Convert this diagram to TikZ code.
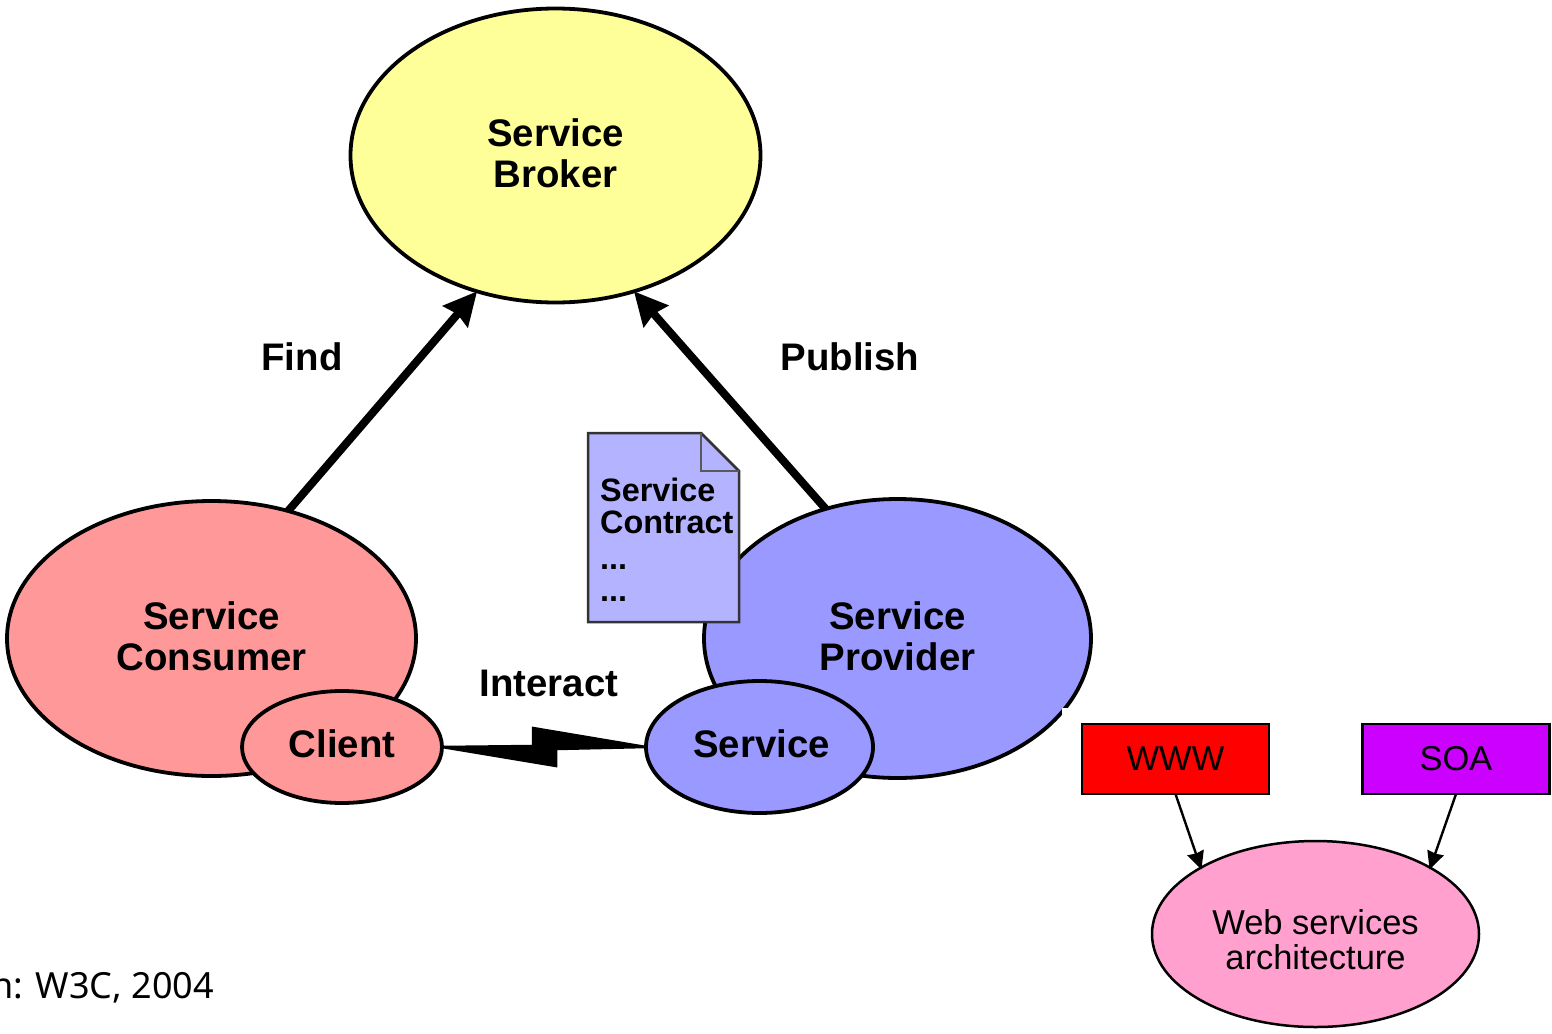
\documentclass[tikz,border=0pt]{standalone}
\usepackage{fontspec}
\setmainfont{Liberation Sans}
\newfontfamily\capfont{Noto Sans}
\usetikzlibrary{shapes.geometric,arrows.meta,calc}
\definecolor{brokerfill}{HTML}{FFFF99}
\definecolor{consumerfill}{HTML}{FF9999}
\definecolor{providerfill}{HTML}{9999FF}
\definecolor{docfill}{HTML}{B3B3FF}
\definecolor{webfill}{HTML}{FFA0CF}
\definecolor{soafill}{HTML}{CC00FF}
\newcommand{\bigbold}{\fontsize{38.4}{41}\selectfont\bfseries}
\newcommand{\plainsm}{\fontsize{34.5}{35}\selectfont}
\tikzset{
  role/.style={draw=black,line width=3.8pt,ellipse,inner sep=0pt,outer sep=0pt},
  lbl/.style={inner sep=0pt,outer sep=0pt,align=center,font=\bigbold},
  bigarrow/.style={line width=8pt,-{Stealth[length=33pt,width=32pt,inset=3pt]}},
  smallarrow/.style={line width=2.4pt,shorten >=-2pt,-{Stealth[length=18pt,width=17pt,inset=1pt]}},
  tagbox/.style={draw=black,line width=2.5pt,inner sep=0pt,outer sep=0pt,minimum width=187pt,minimum height=70pt,font=\plainsm},
}
\begin{document}
\begin{tikzpicture}[x=1pt,y=-1pt]
\useasboundingbox (0,0) rectangle (1552,1033);
\node[role,fill=brokerfill,minimum width=410pt,minimum height=294pt] (broker) at (555.5,155.5) {};
\node[role,fill=consumerfill,minimum width=409pt,minimum height=275pt] (consumer) at (211.5,638.5) {};
\node[role,fill=providerfill,minimum width=387pt,minimum height=279pt] (provider) at (897.5,638.5) {};
\fill[white] (1062,708) rectangle (1552,1033);
\node[role,fill=consumerfill,minimum width=200pt,minimum height=112pt] (client) at (342,747) {};
\node[role,fill=providerfill,minimum width=227pt,minimum height=132pt] (service) at (759.5,747) {};
\node[lbl] (brokertext) at (555.5,153) {Service\\Broker};
\node[lbl] (consumertext) at (211.5,636) {Service\\Consumer};
\node[lbl] (providertext) at (897.5,636) {Service\\Provider};
\node[lbl] (clienttext) at (342,744) {Client};
\node[lbl] (servicetext) at (761.5,744) {Service};
\draw[bigarrow] (consumer.59) -- (broker.240.4);
\draw[bigarrow] (provider.119.7) -- (broker.-60.1);
\node[lbl] (find) at (302,357) {Find};
\node[lbl] (publish) at (850,357) {Publish};
\node[lbl] (interact) at (549,683) {Interact};
\draw[line width=2.5pt,fill=black,line join=miter] (client.east) -- ++(91,-1) -- ++(0,-18) -- (service.west) -- ++(-90,2) -- ++(0,17) -- cycle;
% service contract document
\coordinate (docA) at (588,433);
\coordinate (docB) at (701,433);
\coordinate (docC) at (739,471);
\coordinate (docD) at (739,622);
\coordinate (docE) at (588,622);
\draw[fill=docfill,draw=black!80,line width=2.5pt] (docA) -- (docB) -- (docC) -- (docD) -- (docE) -- cycle;
\draw[draw=black!65,line width=2.5pt,line join=miter] (docB) -- (docB |- docC) -- (docC);
\node[inner sep=0pt,anchor=north west,align=left,font=\fontsize{32.4}{32}\selectfont\bfseries] (doctext) at (600,478) {Service\\Contract\\[4pt]...\\...};
% right-hand part
\node[tagbox,fill=red] (www) at (1175.5,759) {WWW};
\node[tagbox,fill=soafill] (soa) at (1456,759) {SOA};
\node[draw=black,line width=2.5pt,ellipse,inner sep=0pt,outer sep=0pt,fill=webfill,minimum width=327pt,minimum height=186pt] (web) at (1315.5,934) {};
\node[inner sep=0pt,align=center,font=\plainsm] (webtext) at (1315.5,940) {Web services\\architecture};
\draw[smallarrow] (www.south) -- (web.150.5);
\draw[smallarrow] (soa.south) -- (web.30.3);
\node[anchor=base east,inner sep=0pt,font=\capfont\fontsize{36}{40}\selectfont] (source) at (214,998) {n: W3C, 2004};
\end{tikzpicture}
\end{document}
